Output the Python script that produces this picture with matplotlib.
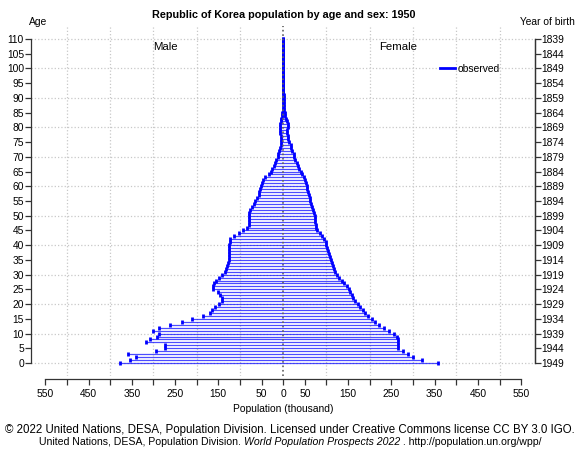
import matplotlib
matplotlib.use("Agg")
import matplotlib.pyplot as plt
from matplotlib.lines import Line2D
import numpy as np

plt.rcParams['font.family'] = ['Liberation Sans', 'DejaVu Sans']

# Republic of Korea, 1950, population (thousand) by single age 0..110
ages = np.arange(0, 111)
male = [378, 354, 340, 358, 293, 274, 274, 318, 307, 292,
        288, 301, 288, 262, 233, 212, 185, 169, 164, 158,
        148, 141, 141, 145, 150, 162, 162, 160, 155, 148,
        141, 135, 132, 130, 128, 126, 125, 125, 125, 125,
        125, 124, 122, 114, 103, 92, 84, 80, 79, 78,
        78, 78, 76, 72, 68, 65, 61, 57, 55, 53,
        52, 49, 47, 42, 34, 28, 26, 22, 18, 16,
        13, 11, 9, 7, 5, 5, 4, 5, 7, 8,
        8, 8, 6, 4, 3, 2, 1.5, 1.2, 1.0, 0.8,
        0.6, 0.5, 0.4, 0.3, 0.2, 0.2, 0.1, 0.1, 0.1, 0.1,
        0, 0, 0, 0, 0, 0, 0, 0, 0, 0, 0]
female = [358, 320, 301, 288, 278, 265, 265, 265, 265, 263,
          255, 245, 232, 222, 213, 205, 196, 190, 185, 178,
          172, 167, 162, 158, 155, 151, 147, 141, 136, 130,
          125, 120, 117, 115, 113, 111, 108, 105, 104, 102,
          100, 98, 94, 90, 84, 79, 76, 75, 74, 74,
          74, 72, 70, 67, 65, 63, 62, 60, 57, 56,
          55, 53, 51, 48, 44, 40, 37, 34, 31, 28,
          26, 24, 21, 19, 17, 14, 12, 10, 9, 9,
          10, 10, 9, 7, 5, 3, 2.5, 2.0, 1.6, 1.3,
          1.0, 0.8, 0.6, 0.5, 0.4, 0.3, 0.2, 0.2, 0.1, 0.1,
          0.1, 0, 0, 0, 0, 0, 0, 0, 0, 0, 0]

x_ticks = np.arange(-550, 551, 50)
x_labeled = [550, 450, 350, 250, 150, 50, 0]
y_ticks = np.arange(0, 111, 5)
birth_years = [1949 - a for a in y_ticks]
grid_x = [-500, -400, -300, -200, -100, 100, 200, 300, 400, 500]
grid_y = np.arange(0, 111, 10)

title = "Republic of Korea population by age and sex: 1950"
blue = "#0000ff"
fs = 7.4

male = np.array(male)
female = np.array(female)

fig = plt.figure(figsize=(5.79, 4.51), dpi=100)
ax = fig.add_axes([31 / 579, 75 / 451, 504 / 579, 350 / 451])
ax.set_xlim(-583, 582)
ax.set_ylim(-4.4, 114.4)

# grid
for gx in grid_x:
    ax.axvline(gx, color="#c8c8c8", ls=":", lw=0.9, zorder=0)
for gy in grid_y:
    ax.axhline(gy, color="#c8c8c8", ls=":", lw=0.9, zorder=0)

# bars as lines with end markers
ax.hlines(ages, -male, female, colors=blue, lw=0.9, alpha=0.7, zorder=2)
ax.plot(-male, ages, ls="none", marker="|", ms=3.5, mew=2.0, color=blue, zorder=3)
ax.plot(female, ages, ls="none", marker="|", ms=3.5, mew=2.0, color=blue, zorder=3)
ax.axvline(0, color="#606060", ls=":", lw=1.2, zorder=4)

# axes
ax.spines["top"].set_visible(False)
ax.spines["left"].set_bounds(0, 110)
ax.spines["right"].set_bounds(0, 110)
ax.spines["bottom"].set_bounds(-550, 550)
ax.spines["bottom"].set_position(("outward", 2))
for s in ["left", "right", "bottom"]:
    ax.spines[s].set_color("#333333")
    ax.spines[s].set_linewidth(0.9)

ax.set_xticks(x_ticks)
ax.set_xticklabels([str(abs(v)) if abs(v) in x_labeled else "" for v in x_ticks])
ax.set_yticks(y_ticks)
ax.set_yticklabels([str(a) for a in y_ticks])
ax.tick_params(axis="x", length=4.3, width=0.9, color="#333333", pad=3, labelsize=fs)
ax.tick_params(axis="y", length=4.3, width=0.9, color="#333333", pad=0.8, labelsize=fs)

ax2 = ax.twinx()
ax2.set_ylim(ax.get_ylim())
ax2.set_yticks(y_ticks)
ax2.set_yticklabels([str(y) for y in birth_years])
ax2.tick_params(axis="y", length=4.0, width=0.9, color="#333333", pad=0.6, labelsize=fs)
for s in ["top", "left", "bottom"]:
    ax2.spines[s].set_visible(False)
ax2.spines["right"].set_bounds(0, 110)
ax2.spines["right"].set_color("#333333")
ax2.spines["right"].set_linewidth(0.9)

ax.set_xlabel("Population (thousand)", fontsize=fs)
ax.xaxis.set_label_coords(0.5, -0.094)
ax.xaxis.label.set_va("center")

ax.text(-273, 107.3, "Male", ha="center", va="center", fontsize=8.2)
ax.text(265, 107.3, "Female", ha="center", va="center", fontsize=8.2)

ax.legend([Line2D([], [], color=blue, lw=2)], ["observed"], loc="center left",
          bbox_to_anchor=(0.812, 0.877), frameon=False, fontsize=fs,
          handlelength=1.4, handletextpad=0.3, borderpad=0, borderaxespad=0)

fig.text(283.3 / 579, 1 - 15 / 451, title, ha="center", va="center",
         fontsize=7.8, fontweight="bold")
fig.text(38 / 579, 1 - 22 / 451, "Age", ha="center", va="center", fontsize=fs)
fig.text(547.5 / 579, 1 - 22 / 451, "Year of birth", ha="center", va="center", fontsize=fs)

# caption
fig.text(289.5 / 579, 1 - 430 / 451,
         "\u00a9 2022 United Nations, DESA, Population Division. Licensed under "
         "Creative Commons license CC BY 3.0 IGO.",
         ha="center", va="center", fontsize=8.3)
parts = [("United Nations, DESA, Population Division. ", "normal"),
         ("World Population Prospects 2022", "italic"),
         (" . http://population.un.org/wpp/", "normal")]
renderer = fig.canvas.get_renderer()
texts = [fig.text(0, 1 - 442 / 451, t, style=st, ha="left", va="center", fontsize=7.55)
         for t, st in parts]
widths = [t.get_window_extent(renderer).width for t in texts]
x0 = 290.5 - sum(widths) / 2
for t, w in zip(texts, widths):
    t.set_x(x0 / 579)
    x0 += w

fig.savefig("out.png", dpi=100)
